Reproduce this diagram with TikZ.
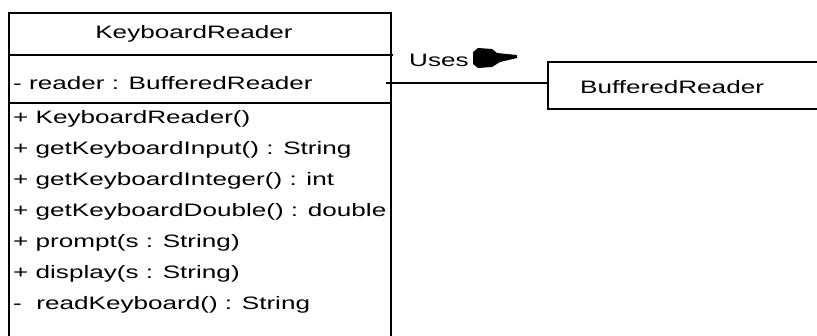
\documentclass[tikz,border=0pt]{standalone}
\usepackage{fontspec}
\setmainfont[FakeStretch=1.45]{Liberation Sans}
\begin{document}
\begin{tikzpicture}[x=1pt,y=-1pt,
  boxline/.style={line width=2pt},
  lbl/.style={anchor=base west,inner sep=0pt,font=\fontsize{18}{20}\selectfont},
  ttl/.style={anchor=base,inner sep=0pt,font=\fontsize{18}{20}\selectfont}]
\useasboundingbox (0,0) rectangle (817,335);
% class box
\node[boxline,draw,anchor=north west,minimum width=382pt,minimum height=340pt,inner sep=0pt] (kr) at (8,12) {};
\node[draw,boxline,anchor=north west,minimum width=300pt,minimum height=47pt,inner sep=0pt] (br) at (547,61) {};
\coordinate (t1) at (8,55);
\coordinate (t2) at (393,55);
\coordinate (s1) at (8,103);
\coordinate (s2) at (390,103);
\draw[boxline] (t1) -- (t2);
\draw[boxline] (s1) -- (s2);
\coordinate (a) at (386,83);
\draw[boxline] (a) -- (a -| br.west);
% texts
\node[ttl] (ttl) at (194,38) {KeyboardReader};
\node[lbl] (at1) at (13,89) {- reader : BufferedReader};
\node[lbl] (m1) at (13,123) {+ KeyboardReader()};
\node[lbl] (m2) at (13,154) {+ getKeyboardInput() : String};
\node[lbl] (m3) at (13,185) {+ getKeyboardInteger() : int};
\node[lbl] (m4) at (13,216) {+ getKeyboardDouble() : double};
\node[lbl] (m5) at (13,247) {+ prompt(s : String)};
\node[lbl] (m6) at (13,278) {+ display(s : String)};
\node[lbl] (m7) at (13,309) {-\ \ readKeyboard() : String};
\node[lbl] (uses) at (409,66) {Uses};
\node[lbl] (brt) at (580,93) {BufferedReader};
% arrow blob
\fill (473,52) -- (478,48) -- (492,49) -- (497,53) -- (517,55) -- (517,58) -- (500,62) -- (492,67) -- (478,68) -- (473,64) -- cycle;
\end{tikzpicture}
\end{document}
